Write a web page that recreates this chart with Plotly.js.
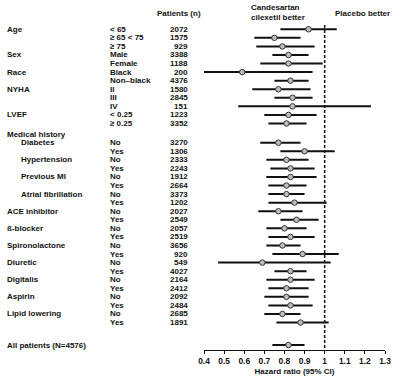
<!DOCTYPE html>
<html>
<head>
<meta charset="utf-8">
<script src="https://cdn.plot.ly/plotly-3.0.1.min.js"></script>
<style>html,body{margin:0;padding:0;background:#fff;}#chart{width:400px;height:381px;}</style>
</head>
<body>
<div id="chart"></div>
<script>
// ---- data ----
const groupLabels = ['Age','','','Sex','','Race','','NYHA','','','LVEF','',
  'Diabetes','','Hypertension','','Previous MI','','Atrial fibrillation','',
  'ACE inhibitor','','ß-blocker','','Spironolactone','','Diuretic','','Digitalis','','Aspirin','','Lipid lowering',''];
const indented = ['Diabetes','Hypertension','Previous MI','Atrial fibrillation'];
const subgroups = ['< 65','≥ 65 < 75','≥ 75','Male','Female','Black','Non–black','II','III','IV','< 0.25','≥ 0.25',
  'No','Yes','No','Yes','No','Yes','No','Yes','No','Yes','No','Yes','No','Yes','No','Yes','No','Yes','No','Yes','No','Yes'];
const patients = [2072,1575,929,3388,1188,200,4376,1580,2845,151,1223,3352,
  3270,1306,2333,2243,1912,2664,3373,1202,2027,2549,2057,2519,3656,920,549,4027,2164,2412,2092,2484,2685,1891];
const hr = [0.92,0.75,0.79,0.82,0.82,0.59,0.83,0.77,0.84,0.84,0.82,0.81,
  0.77,0.90,0.81,0.83,0.83,0.81,0.81,0.85,0.77,0.86,0.80,0.83,0.79,0.89,0.69,0.83,0.83,0.81,0.81,0.83,0.79,0.88];
const lo = [0.78,0.65,0.66,0.74,0.68,0.38,0.75,0.64,0.75,0.57,0.70,0.72,
  0.68,0.78,0.71,0.73,0.71,0.72,0.72,0.72,0.67,0.78,0.71,0.72,0.71,0.74,0.47,0.75,0.71,0.72,0.70,0.72,0.70,0.76];
const hi = [1.06,0.88,0.95,0.92,0.99,0.94,0.92,0.93,0.94,1.23,0.96,0.91,
  0.88,1.05,0.92,0.95,0.96,0.91,0.90,1.01,0.89,0.97,0.91,0.95,0.88,1.07,1.03,0.91,0.95,0.92,0.92,0.94,0.88,1.02];
const overallLabel = 'All patients (N=4576)';
const overallHR = 0.82, overallLo = 0.74, overallHi = 0.90;
const tickVals = [0.4,0.5,0.6,0.7,0.8,0.9,1.0,1.1,1.2,1.3];
const tickText = ['0.4','0.5','0.6','0.7','0.8','0.9','1','1.1','1.2','1.3'];

// ---- layout helpers ----
const L = 204, R = 385;            // plot area pixel extents
const toPX = px => (px - L) / (R - L);
const rowY = i => (i < 12 ? i : i + 1.25);
const ys = hr.map((_, i) => rowY(i));
const overallY = rowY(hr.length - 1) + 2.63;
const allY = ys.concat([overallY]);
const allHR = hr.concat([overallHR]);
const allLo = lo.concat([overallLo]);
const allHi = hi.concat([overallHi]);

const segX = [], segY = [];
allY.forEach((y, i) => { segX.push(allLo[i], allHi[i], null); segY.push(y, y, null); });

const FONT = 'Liberation Sans, Arial, sans-serif';
const fnt = {family: FONT, size: 8, color: '#111', weight: 700};

const ann = [];
function txt(text, px, y, anchor) {
  ann.push({text: text, x: toPX(px), xref: 'paper', y: y, yref: 'y',
    xanchor: anchor, yanchor: 'middle', showarrow: false, font: fnt, borderpad: 0});
}
groupLabels.forEach((g, i) => {
  if (g) txt(g, indented.includes(g) ? 20 : 6, ys[i], 'left');
});
txt('Medical history', 6, 12.3, 'left');
subgroups.forEach((s, i) => txt(s, 109, ys[i], 'left'));
patients.forEach((n, i) => txt(String(n), 189, ys[i], 'right'));
txt(overallLabel, 6, overallY, 'left');
txt('Patients (n)', 156, -1.85, 'left');
txt('Candesartan', 250, -2.5, 'left');
txt('cilexetil better', 250, -1.4, 'left');
txt('Placebo better', 334, -1.85, 'left');

const traces = [
  {x: segX, y: segY, mode: 'lines', line: {color: '#111', width: 2}, hoverinfo: 'skip', showlegend: false},
  {x: allHR, y: allY, mode: 'markers', showlegend: false,
   marker: {symbol: 'circle', size: 5.5, color: '#bdbdbd', line: {color: '#333', width: 1}}}
];

const layout = {
  width: 400, height: 381,
  margin: {l: L, r: 400 - R, t: 0, b: 31},
  paper_bgcolor: '#fff', plot_bgcolor: '#fff',
  showlegend: false,
  font: fnt,
  xaxis: {range: [0.4, 1.3], tickvals: tickVals, ticktext: tickText,
    showline: true, linecolor: '#111', linewidth: 1, ticks: 'outside', ticklen: 3, tickcolor: '#111',
    showgrid: false, zeroline: false, tickfont: {family: FONT, size: 8.4, color: '#111', weight: 700},
    title: {text: 'Hazard ratio (95% CI)', font: {family: FONT, size: 8, color: '#111', weight: 700}, standoff: 3}},
  yaxis: {range: [37.46, -3.42], visible: false, showgrid: false, zeroline: false},
  shapes: [{type: 'line', xref: 'x', yref: 'y', x0: 1, x1: 1, y0: -0.5, y1: 37.46,
    line: {color: '#111', width: 1.5, dash: '3px,2px'}}],
  annotations: ann
};
Plotly.newPlot('chart', traces, layout, {staticPlot: true});
</script>
</body>
</html>
